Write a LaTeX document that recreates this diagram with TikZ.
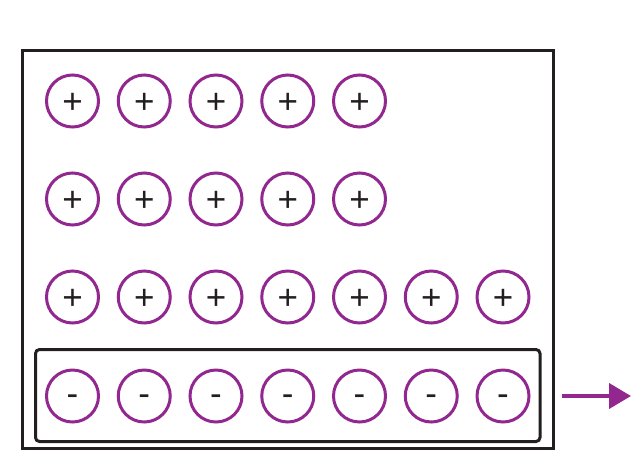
\documentclass[tikz,border=0pt]{standalone}
\usepackage{fontspec}
\newfontfamily\pmfont{Liberation Sans}
\usetikzlibrary{arrows.meta}
\definecolor{pur}{RGB}{146,39,143}
\definecolor{ink}{RGB}{35,31,32}
\begin{document}
\begin{tikzpicture}[x=1pt,y=-1pt,
  ion/.style={circle, draw=pur, line width=3pt, minimum size=52pt, inner sep=0pt,
    text=ink, font=\pmfont\fontsize{35}{35}\selectfont, text depth=0pt},
  posion/.style={ion, text height=25.2pt},
  negion/.style={ion, text height=18.6pt},
  framebox/.style={draw=ink, line width=3pt},
  arr/.style={draw=pur, line width=4pt, -{Triangle[length=22pt,width=25pt]}}]
\useasboundingbox (0,0) rectangle (644,469);
\node[framebox, minimum width=531.5pt, minimum height=398pt, inner sep=0pt] (outer) at (287.75,249.5) {};
\node[framebox, rounded corners=4pt, minimum width=504.5pt, minimum height=92pt, inner sep=0pt] (inner) at (287.75,395.5) {};
\foreach \i in {0,...,4} {
  \node[posion] (a\i) at (72.5+71.75*\i,101) {+};
  \node[posion] (b\i) at (72.5+71.75*\i,199) {+};
}
\foreach \i in {0,...,6} {
  \node[posion] (c\i) at (72.5+71.75*\i,297) {+};
  \node[negion] (d\i) at (72.5+71.75*\i,396) {-};
}
\coordinate (s) at (562,396);
\coordinate (t) at (631,396);
\draw[arr] (s) -- (t);
\end{tikzpicture}
\end{document}
